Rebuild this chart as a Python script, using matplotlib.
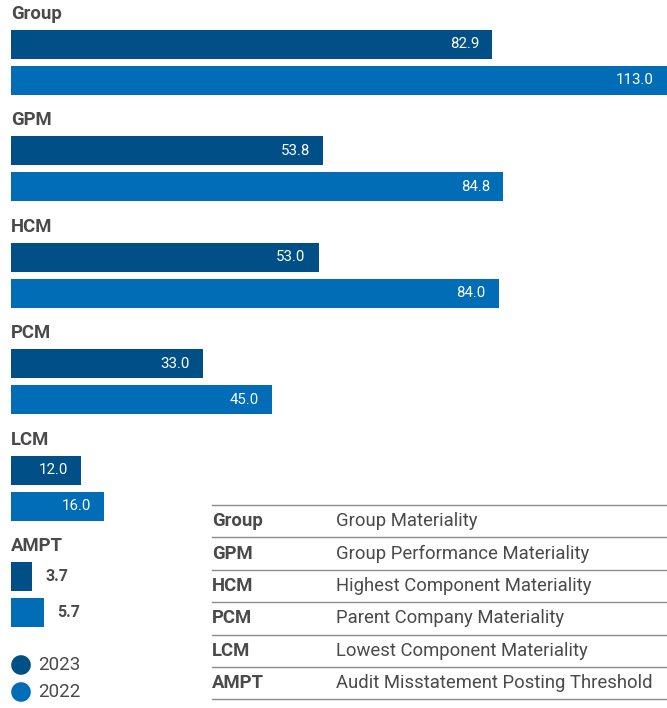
import matplotlib
matplotlib.use("Agg")
import matplotlib.pyplot as plt
from matplotlib.lines import Line2D

plt.rcParams['font.family'] = ['Roboto', 'DejaVu Sans']

# Materiality figures (millions)
categories = ["Group", "GPM", "HCM", "PCM", "LCM", "AMPT"]
values_2023 = [82.9, 53.8, 53.0, 33.0, 12.0, 3.7]
values_2022 = [113.0, 84.8, 84.0, 45.0, 16.0, 5.7]
series_labels = ["2023", "2022"]
descriptions = [
    "Group Materiality",
    "Group Performance Materiality",
    "Highest Component Materiality",
    "Parent Company Materiality",
    "Lowest Component Materiality",
    "Audit Misstatement Posting Threshold",
]

C_2023 = "#004f87"
C_2022 = "#006db6"
TXT = "#4a4a4a"
RULE = "#8c8c8c"

W, H = 667, 708
fig = plt.figure(figsize=(W / 100, H / 100), dpi=100)

# Bar axes: x in data units, y in pixel rows (top = 0)
ax = fig.add_axes([11 / W, 0, 656 / W, 1])
ax.set_xlim(0, 113)
ax.set_ylim(H, 0)
ax.axis("off")

step = 106.4
bar_h = 29
for i, cat in enumerate(categories):
    top = i * step
    ax.text(0, top + 14, cat, fontsize=13.3, fontweight="bold",
            color=TXT, va="center", ha="left")
    y23 = top + 44.5
    y22 = top + 80.5
    ax.barh(y23, values_2023[i], height=bar_h, color=C_2023, left=0)
    ax.barh(y22, values_2022[i], height=bar_h, color=C_2022, left=0)
    for v, y in ((values_2023[i], y23), (values_2022[i], y22)):
        if v >= 10:
            ax.annotate(f"{v:.1f}", (v, y), xytext=(-13, 0),
                        textcoords="offset pixels", ha="right", va="center",
                        color="white", fontsize=10.8)
        else:
            ax.annotate(f"{v:.1f}", (v, y), xytext=(13, 0),
                        textcoords="offset pixels", ha="left", va="center",
                        color=TXT, fontsize=11.5, fontweight="bold")

# Overlay in pixel coordinates for the key table and legend
ov = fig.add_axes([0, 0, 1, 1])
ov.set_xlim(0, W)
ov.set_ylim(H, 0)
ov.axis("off")
ov.patch.set_alpha(0)

row_top = 505
row_h = 32.4
ov.add_line(Line2D([212, 667], [row_top, row_top], color=RULE, lw=1))
for i, (abbr, desc) in enumerate(zip(categories, descriptions)):
    yc = row_top + row_h * (i + 0.5)
    ov.text(212, yc, abbr, fontsize=13.3, fontweight="bold", color=TXT,
            va="center", ha="left")
    ov.text(336, yc, desc, fontsize=13.3, color=TXT, va="center", ha="left")
    yl = row_top + row_h * (i + 1)
    ov.add_line(Line2D([212, 667], [yl, yl], color=RULE, lw=1))

for lab, col, y in zip(series_labels, [C_2023, C_2022], [665, 692]):
    ov.scatter([21], [y], s=200, color=col, edgecolors="none")
    ov.text(38, y, lab, fontsize=13.5, color=TXT, va="center", ha="left")

fig.savefig("out.png", dpi=100)
